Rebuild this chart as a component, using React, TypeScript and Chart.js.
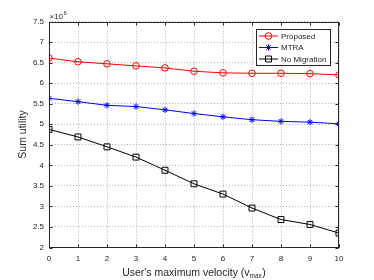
import React, { useEffect, useRef } from "react";
import { Chart, registerables } from "chart.js";

Chart.register(...registerables);

const velocities = [0, 1, 2, 3, 4, 5, 6, 7, 8, 9, 10];
const proposed = [6.61, 6.52, 6.47, 6.42, 6.37, 6.29, 6.25, 6.24, 6.24, 6.23, 6.2];
const mtra = [5.63, 5.55, 5.46, 5.43, 5.35, 5.26, 5.18, 5.11, 5.07, 5.05, 5.01];
const noMigration = [4.875, 4.69, 4.45, 4.2, 3.88, 3.55, 3.3, 2.96, 2.68, 2.56, 2.35];
const seriesNames = ["Proposed", "MTRA", "No Migration"];
const yTitle = "Sum utility";
const xTitleMain = "User's maximum velocity (v";
const xTitleSub = "max";
const xTitleEnd = ")";

const FONT = "'Liberation Sans', Arial, Helvetica, sans-serif";
const TXT = "#262626";

const toPts = (arr: number[]) => arr.map((y, i) => ({ x: velocities[i], y }));

function marker(ctx: CanvasRenderingContext2D, style: string, r: number, x: number, y: number, color: string) {
  ctx.save();
  ctx.strokeStyle = color;
  ctx.lineWidth = 1;
  ctx.beginPath();
  if (style === "circle") {
    ctx.arc(x, y, r, 0, Math.PI * 2);
  } else if (style === "rect") {
    const s = r * Math.SQRT1_2;
    ctx.rect(x - s, y - s, 2 * s, 2 * s);
  } else {
    const d = r * Math.SQRT1_2;
    ctx.moveTo(x - r, y); ctx.lineTo(x + r, y);
    ctx.moveTo(x, y - r); ctx.lineTo(x, y + r);
    ctx.moveTo(x - d, y - d); ctx.lineTo(x + d, y + d);
    ctx.moveTo(x - d, y + d); ctx.lineTo(x + d, y - d);
  }
  ctx.stroke();
  ctx.restore();
}

const decorPlugin = {
  id: "decor",
  afterDraw(chart: any) {
    const ctx = chart.ctx as CanvasRenderingContext2D;
    const { left, right, top, bottom } = chart.chartArea;
    const xs = chart.scales.x;
    const ys = chart.scales.y;
    ctx.save();
    // frame
    ctx.strokeStyle = TXT;
    ctx.lineWidth = 1;
    const L = Math.round(left) + 0.5, R = Math.round(right) - 0.5;
    const T = Math.round(top) + 0.5, B = Math.round(bottom) - 0.5;
    ctx.strokeRect(L, T, R - L, B - T);
    // inner ticks
    ctx.beginPath();
    xs.ticks.forEach((t: any) => {
      const px = Math.round(xs.getPixelForValue(t.value)) + 0.5;
      ctx.moveTo(px, B);
      ctx.lineTo(px, B - 3);
      ctx.moveTo(px, T);
      ctx.lineTo(px, T + 3);
    });
    ys.ticks.forEach((t: any) => {
      const py = Math.round(ys.getPixelForValue(t.value)) + 0.5;
      ctx.moveTo(L, py);
      ctx.lineTo(L + 3, py);
      ctx.moveTo(R, py);
      ctx.lineTo(R - 3, py);
    });
    ctx.stroke();

    // exponent label
    ctx.fillStyle = TXT;
    ctx.textBaseline = "alphabetic";
    ctx.textAlign = "left";
    ctx.font = `8px ${FONT}`;
    ctx.fillText("\u00d710", left + 0.5, top - 3);
    const w10 = ctx.measureText("\u00d710").width;
    ctx.font = `6px ${FONT}`;
    ctx.fillText("6", left + 0.5 + w10 + 0.5, top - 7);

    // y title
    ctx.save();
    ctx.font = `10.5px ${FONT}`;
    ctx.translate(23.5, (top + bottom) / 2);
    ctx.rotate(-Math.PI / 2);
    ctx.textAlign = "center";
    ctx.textBaseline = "middle";
    ctx.fillText(yTitle, 0, 0);
    ctx.restore();

    // x title with subscript
    ctx.font = `10.5px ${FONT}`;
    const wMain = ctx.measureText(xTitleMain).width;
    const wEnd = ctx.measureText(xTitleEnd).width;
    ctx.font = `6.5px ${FONT}`;
    const wSub = ctx.measureText(xTitleSub).width;
    const total = wMain + wSub + 0.5 + wEnd;
    let x0 = (left + right) / 2 - total / 2;
    const base = 276;
    ctx.textBaseline = "alphabetic";
    ctx.fillStyle = TXT;
    ctx.font = `10.5px ${FONT}`;
    ctx.fillText(xTitleMain, x0, base);
    x0 += wMain;
    ctx.font = `6.5px ${FONT}`;
    ctx.fillText(xTitleSub, x0, base + 1.5);
    x0 += wSub + 0.5;
    ctx.font = `10.5px ${FONT}`;
    ctx.fillText(xTitleEnd, x0, base);

    // legend
    const lx = 256.5, ly = 29.5, lw = 74, lh = 36;
    ctx.fillStyle = "#ffffff";
    ctx.fillRect(lx, ly, lw, lh);
    ctx.strokeStyle = TXT;
    ctx.lineWidth = 1;
    ctx.strokeRect(lx, ly, lw, lh);
    const rows = [36, 47.5, 59];
    chart.data.datasets.forEach((ds: any, i: number) => {
      const yy = rows[i];
      ctx.strokeStyle = ds.borderColor;
      ctx.lineWidth = 1;
      ctx.beginPath();
      ctx.moveTo(259, yy);
      ctx.lineTo(278, yy);
      ctx.stroke();
      marker(ctx, ds.pointStyle, ds.pointRadius, 268.5, yy, ds.borderColor);
      ctx.fillStyle = TXT;
      ctx.font = `8px ${FONT}`;
      ctx.textAlign = "left";
      ctx.textBaseline = "middle";
      ctx.fillText(ds.label, 281, yy + 0.5);
    });
    ctx.restore();
  },
};

export default function App() {
  const ref = useRef<HTMLCanvasElement | null>(null);
  useEffect(() => {
    if (!ref.current) return;
    const mk = (label: string, data: number[], color: string, style: string, r: number) => ({
      label,
      data: toPts(data),
      borderColor: color,
      backgroundColor: color,
      borderWidth: 1,
      pointStyle: style,
      pointRadius: r,
      pointBorderColor: color,
      pointBackgroundColor: "rgba(0,0,0,0)",
      pointBorderWidth: 1,
      tension: 0,
    });
    const chart = new Chart(ref.current, {
      type: "line",
      data: {
        datasets: [
          mk(seriesNames[0], proposed, "#ff0000", "circle", 3.3),
          mk(seriesNames[1], mtra, "#0000ff", "star", 3.2),
          mk(seriesNames[2], noMigration, "#000000", "rect", 4.2),
        ] as any,
      },
      options: {
        responsive: false,
        animation: false,
        devicePixelRatio: 1,
        layout: { padding: { top: 21.5, right: 35, left: 0, bottom: 0 } },
        plugins: { legend: { display: false }, tooltip: { enabled: false } },
        scales: {
          x: {
            type: "linear",
            min: 0,
            max: 10,
            afterFit: (s: any) => { s.height = 32.5; },
            ticks: { stepSize: 1, color: TXT, font: { family: FONT, size: 8 }, padding: 6, maxRotation: 0 },
            grid: { color: "#b4b4b4", drawTicks: false },
            border: { display: false, dash: [1, 2] },
          },
          y: {
            min: 2,
            max: 7.5,
            afterFit: (s: any) => { s.width = 49; },
            ticks: {
              stepSize: 0.5,
              color: TXT,
              font: { family: FONT, size: 8 },
              padding: 5,
              callback: (v: any) => String(Number(v)),
            },
            grid: { color: "#b4b4b4", drawTicks: false },
            border: { display: false, dash: [1, 2] },
          },
        },
      } as any,
      plugins: [decorPlugin],
    });
    return () => chart.destroy();
  }, []);
  return (
    <div style={{ position: "fixed", left: 0, top: 0, width: 374, height: 280, background: "#fff" }}>
      <canvas ref={ref} width={374} height={280} style={{ display: "block" }} />
    </div>
  );
}
